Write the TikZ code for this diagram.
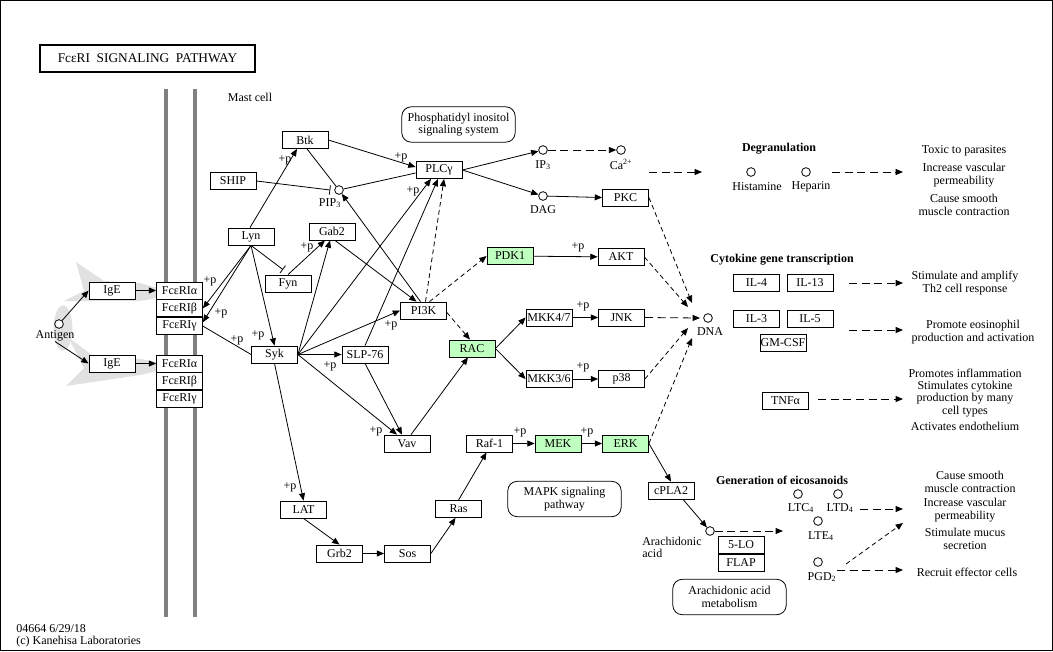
\documentclass[tikz,border=0pt]{standalone}
\usepackage{fontspec}
\setmainfont{Liberation Serif}
\usepackage{xcolor}
\usetikzlibrary{arrows.meta,calc,positioning}

\definecolor{hitgreen}{RGB}{191,255,191}
\definecolor{membgray}{RGB}{128,128,128}
\definecolor{iggray}{RGB}{225,225,225}

\newcommand{\kfont}{\fontsize{9}{9.2}\selectfont}

\tikzset{
  gene/.style={draw, fill=white, line width=0.6pt, minimum width=34.5pt, minimum height=12.75pt, inner sep=0pt, font=\kfont},
  hit/.style={gene, fill=hitgreen},
  cpd/.style={draw, circle, fill=white, line width=0.6pt, minimum size=6.5pt, inner sep=0pt},
  pmap/.style={draw, rounded corners=7pt, line width=0.6pt, minimum width=85pt, minimum height=26.5pt, align=center, font=\kfont, inner sep=0pt},
  lbl/.style={inner sep=0pt, font=\kfont, align=center},
  grouphead/.style={inner sep=0pt, font={\kfont\bfseries}},
  act/.style={->, line width=0.6pt},
  inh/.style={-{Bar[width=7pt]}, line width=0.6pt},
  ind/.style={->, line width=0.6pt, dash pattern=on 3.5pt off 2.5pt},
  outarrow/.style={->, line width=0.6pt, dash pattern=on 6pt off 3.5pt}
}

\begin{document}
\begin{tikzpicture}[x=0.75pt, y=-0.75pt, >={Triangle[length=5.5pt,width=4.5pt]}]

    \useasboundingbox (0,0) rectangle (1053,651);
    %frame
    \draw[line width=0.75pt] (0.5,0.5) rectangle (1052.5,650.5);
    \node[draw, line width=1.5pt, minimum width=161pt, minimum height=20pt, inner sep=0pt,
          font=\fontsize{10}{10}\selectfont] (title) at (147.5,58.5) {FcεRI\ \ SIGNALING\ \ PATHWAY};

    %antibody shadows
    \fill[iggray] (76,262) -- (104,281) -- (140,283) -- (157,288) -- (157,298) -- (140,301) -- (64,301) -- (84,291) -- cycle;
    \fill[iggray] (68,337) -- (92,355) -- (140,359) -- (157,362) -- (157,371) -- (140,375) -- (66,386) -- (84,368) -- cycle;
    \fill[iggray] (63,328) ellipse [x radius=7pt, y radius=17pt];

    %membrane
    \draw[membgray, line width=3pt] (166,89) -- (166,617);
    \draw[membgray, line width=3pt] (195,89) -- (195,617);
    \node[lbl] (mast) at (250,97) {Mast cell};

    %receptor side
    \node[gene] (IgE1) at (112,290.5) {IgE};
    \node[gene] (IgE2) at (112,363.5) {IgE};
    \foreach \n/\y in {1/290.5, 2/363.5}{
        \node[gene] (FcRa\n) at (179.5,\y) {FcεRIα};
        \node[gene, below=0pt of FcRa\n] (FcRb\n) {FcεRIβ};
        \node[gene, below=0pt of FcRb\n] (FcRg\n) {FcεRIγ};
    }
    \node[cpd] (Antigen) at (59,324) {};
    \node[lbl] (AntigenT) at (55,336) {Antigen};

    %genes
    \node[gene] (Btk) at (305,140) {Btk};
    \node[gene] (SHIP) at (233,181) {SHIP};
    \node[gene] (Lyn) at (251,236.5) {Lyn};
    \node[gene] (Gab2) at (332,231.5) {Gab2};
    \node[gene] (Fyn) at (288,283.5) {Fyn};
    \node[gene] (Syk) at (274.5,354.5) {Syk};
    \node[gene] (SLP) at (365,354.5) {SLP-76};
    \node[gene] (Vav) at (407,443.5) {Vav};
    \node[gene] (PLC) at (439,170) {PLCγ};
    \node[gene] (PI3K) at (423.5,310.5) {PI3K};
    \node[hit] (PDK1) at (510,256) {PDK1};
    \node[gene] (AKT) at (621,257) {AKT};
    \node[gene] (PKC) at (625.5,197.5) {PKC};
    \node[hit] (RAC) at (472,348.5) {RAC};
    \node[gene] (MKK47) at (549,317.5) {MKK4/7};
    \node[gene] (JNK) at (621.5,317.5) {JNK};
    \node[gene] (MKK36) at (549,379) {MKK3/6};
    \node[gene] (p38) at (621.5,379) {p38};
    \node[gene] (Raf) at (489.5,443.5) {Raf-1};
    \node[hit] (MEK) at (558,443.5) {MEK};
    \node[hit] (ERK) at (625.5,443.5) {ERK};
    \node[gene] (cPLA) at (671,490.5) {cPLA2};
    \node[gene] (Ras) at (458.5,509) {Ras};
    \node[gene] (LAT) at (303.5,509.5) {LAT};
    \node[gene] (Grb2) at (339.5,553.5) {Grb2};
    \node[gene] (Sos) at (407.5,553.5) {Sos};
    \node[gene] (IL4) at (756.5,282.5) {IL-4};
    \node[gene] (IL13) at (810,282.5) {IL-13};
    \node[gene] (IL3) at (756.5,319) {IL-3};
    \node[gene] (IL5) at (810,319) {IL-5};
    \node[gene] (GMCSF) at (783,342.5) {GM-CSF};
    \node[gene] (TNF) at (785.5,400.5) {TNFα};
    \node[gene] (LO) at (741,545) {5-LO};
    \node[gene, below=0pt of LO] (FLAP) {FLAP};

    %compounds
    \node[cpd] (PIP3) at (339,190) {};
    \node[lbl] (PIP3T) at (330,203) {PIP\textsubscript{3}};
    \node[cpd] (IP3) at (543,150) {};
    \node[lbl] (IP3T) at (543,165) {IP\textsubscript{3}};
    \node[cpd] (Ca) at (621,150) {};
    \node[lbl] (CaT) at (621,164) {Ca\textsuperscript{2+}};
    \node[cpd] (DAG) at (543,196) {};
    \node[lbl] (DAGT) at (543,210) {DAG};
    \node[cpd] (DNA) at (708,318) {};
    \node[lbl] (DNAT) at (710,332) {DNA};
    \node[cpd] (Hist) at (751,172) {};
    \node[lbl] (HistT) at (757,187) {Histamine};
    \node[cpd] (Hep) at (806,172) {};
    \node[lbl] (HepT) at (811,187) {Heparin};
    \node[cpd] (AA) at (710,531) {};
    \node[lbl, align=left, anchor=north west] (AAT) at (642,537) {Arachidonic\\acid};
    \node[cpd] (LTC) at (798,494) {};
    \node[lbl] (LTCT) at (801,508) {LTC\textsubscript{4}};
    \node[cpd] (LTD) at (838,494) {};
    \node[lbl] (LTDT) at (840,508) {LTD\textsubscript{4}};
    \node[cpd] (LTE) at (818,521) {};
    \node[lbl] (LTET) at (821,536) {LTE\textsubscript{4}};
    \node[cpd] (PGD) at (818,562) {};
    \node[lbl] (PGDT) at (822,577) {PGD\textsubscript{2}};

    %maps
    \node[pmap] (PImap) at (458.5,124.5) {Phosphatidyl inositol\\signaling system};
    \node[pmap] (MAPKmap) at (564.5,499) {MAPK signaling\\pathway};
    \node[pmap] (AAmap) at (729.5,597) {Arachidonic acid\\metabolism};

    %groups
    \node[grouphead] (degr) at (779,149) {Degranulation};
    \node[grouphead] (cyto) at (782,260) {Cytokine gene transcription};
    \node[grouphead] (eico) at (782,480) {Generation of eicosanoids};

    %responses
    \node[lbl] (resp1) at (964,151) {Toxic to parasites};
    \node[lbl] (resp2) at (964,175) {Increase vascular\\permeability};
    \node[lbl] (resp3) at (964,205) {Cause smooth\\muscle contraction};
    \node[lbl] (resp4) at (965,283) {Stimulate and amplify\\Th2 cell response};
    \node[lbl] (resp5) at (973,332) {Promote eosinophil\\production and activation};
    \node[lbl] (resp6) at (965,373) {Promotes inflammation};
    \node[lbl] (resp7) at (965,399) {Stimulates cytokine\\production by many\\cell types};
    \node[lbl] (resp8) at (965,426) {Activates endothelium};
    \node[lbl] (resp9) at (970,482) {Cause smooth\\muscle contraction};
    \node[lbl] (resp10) at (965,510) {Increase vascular\\permeability};
    \node[lbl] (resp11) at (965,539) {Stimulate mucus\\secretion};
    \node[lbl] (resp12) at (967,572) {Recruit effector cells};

    %footer
    \node[lbl, align=left, anchor=west] (foot) at (16,636) {04664 6/29/18\\(c) Kanehisa Laboratories};

    %antigen
    \draw[act] (Antigen) -- (IgE1.west);
    \draw[act] (AntigenT.south) -- (IgE2.west);
    \draw[act] (IgE1) -- (FcRa1);
    \draw[act] (IgE2) -- (FcRa2);

    %Lyn
    \draw[act] (Lyn.south) -- (FcRb1.east);
    \draw[act] (Lyn.south) -- ($(FcRg1.east)+(0,-4)$);
    \draw[act] (Lyn.south) -- (Syk.north);
    \draw[act] ($(Lyn.north)+(-1,0)$) -- ($(Btk.south)+(-8,0)$);
    \draw[inh] (Lyn.south) -- ($(Fyn.north)+(-5,-5)$);
    \draw[line width=0.6pt] (FcRg1.east) -- (Syk.west);

    %Gab2
    \draw[act] (Fyn.north) -- ($(Gab2.south)+(-7,0)$);
    \draw[act] (Syk.east) -- ($(Gab2.south)+(-2,0)$);
    \draw[act] ($(Gab2.south)+(3,0)$) -- ($(PI3K.north)+(-7,0)$);

    %PIP3
    \draw[inh] (SHIP.east) -- ($(PIP3.west)+(-4,0)$);
    \draw[line width=0.6pt] ($(Btk.south)+(2,0)$) -- (PIP3);
    \draw[act] ($(PI3K.north)+(-3,0)$) -- (PIP3);
    \draw[line width=0.6pt] (PIP3) -- ($(PLC.west)+(0,3)$);

    %PLCg
    \draw[act] (Btk.east) -- ($(PLC.west)+(0,-3)$);
    \draw[act] (Syk.east) -- ($(PLC.south)+(-8,0)$);
    \draw[act] (SLP.north) -- ($(PLC.south)+(-1,0)$);
    \draw[ind] ($(PI3K.north)+(2,0)$) -- ($(PLC.south)+(5,0)$);
    \draw[act] (PLC.east) -- (IP3);
    \draw[act] (PLC.east) -- (DAG);
    \draw[outarrow] (IP3) -- (Ca);
    \draw[act] (DAG) -- (PKC.west);

    %Syk
    \draw[act] (Syk.east) -- (PI3K.west);
    \draw[act] (Syk.east) -- (SLP.west);
    \draw[act] (Syk.east) -- ($(Vav.north)+(-10,0)$);
    \draw[act] (SLP.south) -- ($(Vav.north)+(-5,0)$);
    \draw[act] (Syk.south) -- (LAT.north);

    %RAC
    \draw[act] ($(Vav.north)+(4,0)$) -- ($(RAC.south)+(-4,0)$);
    \draw[ind] ($(PI3K.east)+(0,2)$) -- ($(RAC.north)+(-2,0)$);
    \draw[ind] ($(PI3K.north)+(6,0)$) -- (PDK1.west);
    \draw[act] (PDK1) -- (AKT);
    \draw[act] (RAC.east) -- (MKK47.west);
    \draw[act] (RAC.east) -- (MKK36.west);
    \draw[act] (MKK47) -- (JNK);
    \draw[act] (MKK36) -- (p38);

    %MAPK
    \draw[act] (LAT.south) -- (Grb2.north);
    \draw[act] (Grb2) -- (Sos);
    \draw[act] (Sos.east) -- ($(Ras.south)+(-3,0)$);
    \draw[act] (Ras.north) -- ($(Raf.south)+(-3,0)$);
    \draw[act] (Raf) -- (MEK);
    \draw[act] (MEK) -- (ERK);
    \draw[act] (ERK.east) -- (cPLA.north);
    \draw[act] ($(cPLA.south)+(12,0)$) -- (AA);

    %DNA
    \draw[ind] (PKC.east) -- ($(DNA)+(-16,-15)$);
    \draw[ind] (AKT.east) -- ($(DNA)+(-20,-11)$);
    \draw[outarrow] (JNK.east) -- ($(DNA)+(-8,0)$);
    \draw[ind] (p38.east) -- ($(DNA)+(-20,10)$);
    \draw[ind] (ERK.east) -- ($(DNA)+(-16,20)$);

    %outputs
    \coordinate (degA) at (649,172);  \coordinate (degB) at (702,172);
    \coordinate (hepA) at (832,172);  \coordinate (hepB) at (903,172);
    \coordinate (thA) at (849,283);   \coordinate (thB) at (903,283);
    \coordinate (eoA) at (849,330);   \coordinate (eoB) at (903,330);
    \coordinate (tnA) at (818,399);   \coordinate (tnB) at (903,399);
    \coordinate (ltA) at (860,509);   \coordinate (ltB) at (903,509);
    \coordinate (pgA) at (837,570);   \coordinate (pgB) at (903,570);
    \coordinate (aaB) at (783,531);
    \coordinate (pgC) at (846,564);   \coordinate (pgD) at (903,523);
    \foreach \s/\t in {degA/degB, hepA/hepB, thA/thB, eoA/eoB, tnA/tnB, ltA/ltB, pgA/pgB}
        \draw[outarrow] (\s) -- (\t);
    \draw[outarrow] (AA) -- (aaB);
    \draw[ind] (pgC) -- (pgD);

    %phosphorylation labels
    \foreach \x/\y [count=\i] in {210/281, 221/313, 237/340, 258/335, 285/160, 307/247,
        401/157, 413/191, 391/325, 330/366, 376/431, 290/487, 578/247, 583/306,
        583/367, 520/432, 587/432}
        \node[lbl] (p\i) at (\x,\y) {+p};

\end{tikzpicture}
\end{document}
